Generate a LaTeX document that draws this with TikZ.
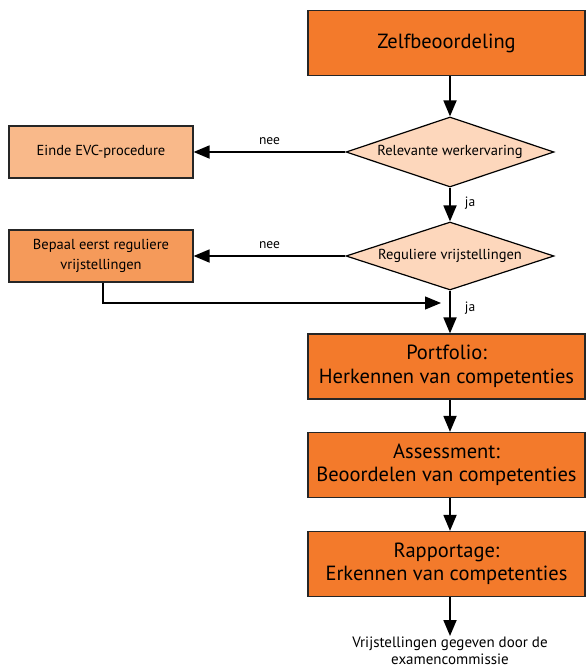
\documentclass[tikz,border=0pt]{standalone}
\usepackage{fontspec}
\setmainfont{PT Sans}
\usetikzlibrary{shapes.geometric,arrows.meta}
\definecolor{mainor}{HTML}{F37A2B}
\definecolor{lightor}{HTML}{F9B98A}
\definecolor{midor}{HTML}{F59A5A}
\definecolor{paleor}{HTML}{FDD7BC}
\tikzset{
  mainbox/.style={draw=black!85, line width=1.2pt, fill=mainor, minimum width=277pt, minimum height=65pt, align=center, font=\fontsize{20.5}{23.5}\selectfont, inner sep=0pt},
  sidebox/.style={draw=black!85, line width=1.2pt, minimum width=184pt, minimum height=52pt, align=center, font=\fontsize{14.5}{20}\selectfont, inner sep=0pt},
  decision/.style={diamond, draw=black, line width=1.2pt, fill=paleor, minimum width=208pt, minimum height=70pt, inner sep=0pt, aspect=3, font=\fontsize{14.5}{16}\selectfont},
  flow/.style={line width=1.8pt, -{Triangle[length=16pt,width=13pt]}},
  lbl/.style={font=\fontsize{13.5}{15}\selectfont, inner sep=0pt}
}
\begin{document}
\begin{tikzpicture}[x=1pt,y=-1pt]
\useasboundingbox (0,0) rectangle (586,669);
\node[mainbox] (z) at (446.5,43) {Zelfbeoordeling};
\node[decision] (d1) at (450,152) {Relevante werkervaring};
\node[sidebox, fill=lightor] (e) at (101,152) {Einde EVC-procedure};
\node[decision, minimum height=68pt] (d2) at (450,256) {Reguliere vrijstellingen};
\node[sidebox, fill=midor] (b) at (101,256) {Bepaal eerst reguliere\\vrijstellingen};
\node[mainbox] (p) at (446.5,366.5) {Portfolio:\\Herkennen van competenties};
\node[mainbox] (a) at (446.5,465) {Assessment:\\Beoordelen van competenties};
\node[mainbox] (r) at (446.5,564) {Rapportage:\\Erkennen van competenties};
\node[font=\fontsize{15}{16.5}\selectfont, align=center, inner sep=0pt] (v) at (450,651) {Vrijstellingen gegeven door de\\examencommissie};
\coordinate (c1) at (103,303);
\coordinate (c2) at (441,303);
\coordinate (vt) at (450,636);

\draw[flow] (z.south -| d1.north) -- (d1.north);
\draw[flow] (d1.west) -- (d1.west -| e.east) node[lbl, midway, above=6pt] {nee};
\draw[flow] (d1.south) -- (d2.north) node[lbl, pos=0.45, right=14pt] {ja};
\draw[flow] (d2.west) -- (d2.west -| b.east) node[lbl, midway, above=6pt] {nee};
\draw[line width=1.2pt, -{Triangle[length=16pt,width=13pt]}] (b.south -| c1) |- (c2);
\draw[flow] (d2.south) -- (p.north -| d2.south) node[lbl, pos=0.4, right=14pt] {ja};
\draw[flow] (p.south -| d2.south) -- (a.north -| d2.south);
\draw[flow] (a.south -| d2.south) -- (r.north -| d2.south);
\draw[flow] (r.south -| d2.south) -- (vt);
\end{tikzpicture}
\end{document}
